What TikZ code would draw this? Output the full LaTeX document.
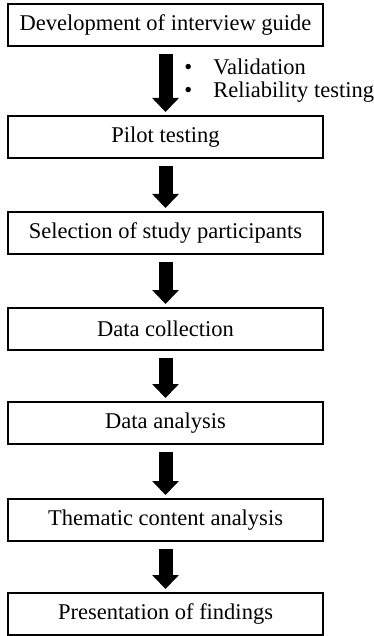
\documentclass[tikz,border=0pt]{standalone}
\usepackage{fontspec}
\setmainfont{Liberation Serif}
\usetikzlibrary{positioning, calc, arrows.meta}

\begin{document}
\begin{tikzpicture}[node distance=27pt and 10pt,
	stage/.style={draw, line width=1.3pt, minimum width=157.5pt, minimum height=21pt, inner sep=0pt, outer sep=0pt, font=\fontsize{11.25}{13.5}\selectfont},
	note/.style={anchor=west, inner sep=0pt, font=\fontsize{11.25}{13.5}\selectfont},
	flow/.style={line width=7pt, -{Triangle[length=7pt,width=13pt]}, shorten <=4pt, shorten >=2pt}]
	\useasboundingbox (0,0) rectangle (187pt,-318pt);
	\node[stage] (guide) at (82.75pt,-12.5pt) {Development of interview guide};
	\node[stage, below=35pt of guide] (pilot)        {Pilot testing};
	\node[stage, below=27pt of pilot] (select)       {Selection of study participants};
	\node[stage, below=27pt of select] (collect)     {Data collection};
	\node[stage, below=26pt of collect] (analysis)   {Data analysis};
	\node[stage, below=27.5pt of analysis] (theme)   {Thematic content analysis};
	\node[stage, below=26pt of theme] (present)      {Presentation of findings};
	\node[note] (valid) at ($(guide.south)+(9.25pt,-10.5pt)$) {\textbullet\hspace{10.6pt}Validation};
	\node[note] (reliab) at ($(guide.south)+(9.25pt,-23pt)$) {\textbullet\hspace{10.6pt}Reliability testing};
	\foreach \from/\to in {guide/pilot, pilot/select, select/collect, collect/analysis, analysis/theme, theme/present}
		\draw[flow] (\from) -- (\to);
\end{tikzpicture}
\end{document}
